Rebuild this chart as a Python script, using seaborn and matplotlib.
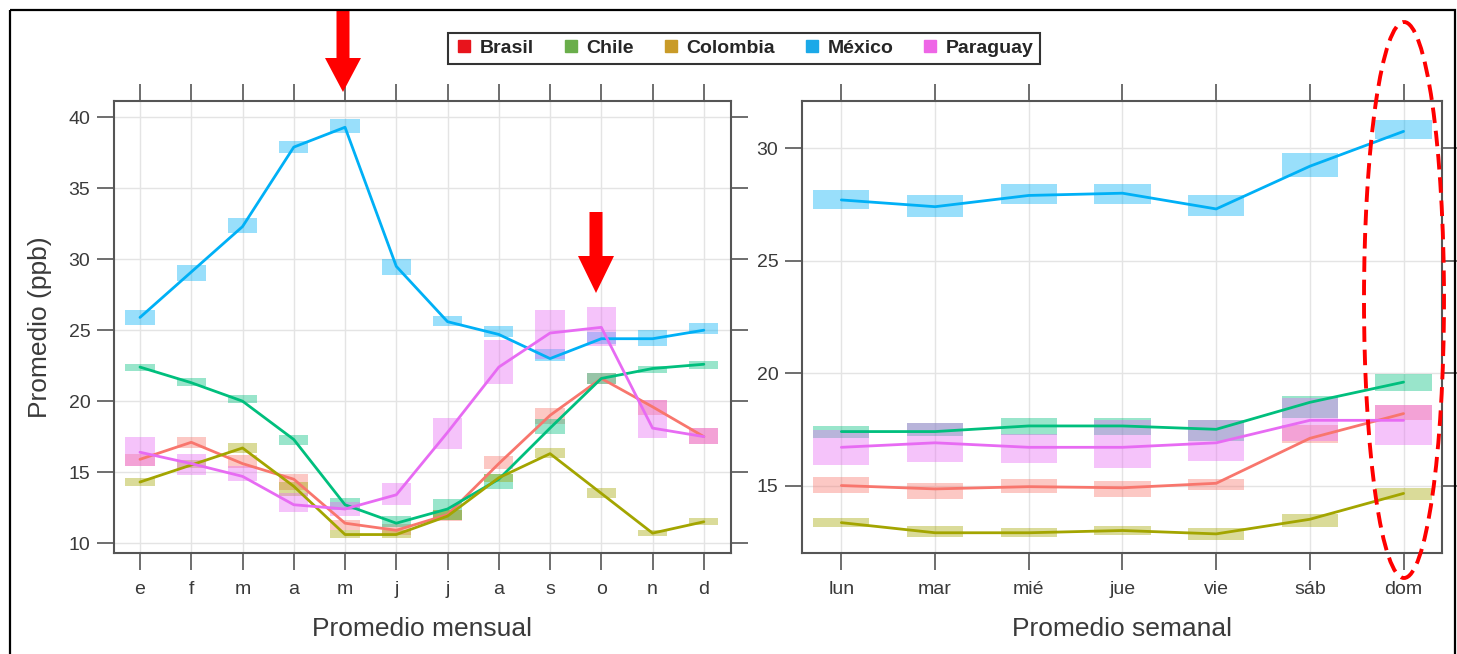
import matplotlib
matplotlib.use("Agg")
import matplotlib.pyplot as plt
import seaborn as sns
import pandas as pd
import numpy as np
from matplotlib.patches import Polygon, Ellipse, Rectangle
from matplotlib.lines import Line2D

sns.set_theme(style="white")
plt.rcParams['font.family'] = ['Liberation Sans', 'DejaVu Sans']

countries = ["Brasil", "Chile", "Colombia", "México", "Paraguay"]
months = ["e", "f", "m", "a", "m", "j", "j", "a", "s", "o", "n", "d"]
days = ["lun", "mar", "mié", "jue", "vie", "sáb", "dom"]

# monthly means and confidence bounds (ppb)
br_m = [15.9, 17.1, 15.6, 14.5, 11.4, 10.9, 12.0, 15.6, 19.0, 21.6, 19.6, 17.5]
br_m_lo = [15.4, 16.7, 15.3, 13.75, 10.9, 10.6, 11.55, 15.2, 18.4, 21.2, 19.05, 16.95]
br_m_hi = [16.3, 17.5, 16.2, 14.9, 11.6, 11.35, 12.35, 16.1, 19.5, 22.0, 20.1, 18.1]
cl_m = [22.4, 21.3, 20.0, 17.3, 12.7, 11.4, 12.4, 14.5, 18.1, 21.6, 22.3, 22.6]
cl_m_lo = [22.1, 21.1, 19.9, 16.9, 12.35, 11.1, 11.65, 13.8, 17.7, 21.2, 22.0, 22.25]
cl_m_hi = [22.6, 21.6, 20.4, 17.6, 13.2, 11.9, 13.1, 14.9, 18.75, 22.0, 22.5, 22.8]
co_m = [14.3, 15.5, 16.7, 14.0, 10.6, 10.6, 11.9, 14.6, 16.3, 13.5, 10.7, 11.5]
co_m_lo = [14.0, 15.3, 16.35, 13.3, 10.35, 10.35, 11.65, 14.3, 16.0, 13.2, 10.5, 11.3]
co_m_hi = [14.6, 15.85, 17.05, 14.3, 10.9, 10.9, 12.3, 14.9, 16.7, 13.9, 10.95, 11.75]
mx_m = [25.9, 29.1, 32.3, 37.9, 39.3, 29.5, 25.6, 24.7, 23.0, 24.4, 24.4, 25.0]
mx_m_lo = [25.4, 28.5, 31.85, 37.5, 38.9, 28.9, 25.3, 24.5, 22.8, 24.0, 23.9, 24.7]
mx_m_hi = [26.4, 29.6, 32.9, 38.3, 39.9, 30.0, 26.0, 25.3, 23.7, 24.9, 25.0, 25.5]
py_m = [16.4, 15.6, 14.7, 12.7, 12.4, 13.4, 17.8, 22.4, 24.8, 25.2, 18.1, 17.5]
py_m_lo = [15.4, 14.8, 14.35, 12.2, 11.9, 12.7, 16.6, 21.2, 23.0, 23.9, 17.4, 16.95]
py_m_hi = [17.5, 16.3, 15.4, 13.5, 12.9, 14.2, 18.8, 24.3, 26.4, 26.6, 20.1, 18.1]

# weekly means and confidence bounds (ppb)
br_w = [15.0, 14.85, 14.95, 14.9, 15.1, 17.1, 18.2]
br_w_lo = [14.65, 14.4, 14.65, 14.5, 14.8, 16.9, 17.9]
br_w_hi = [15.4, 15.1, 15.3, 15.2, 15.3, 17.7, 18.6]
cl_w = [17.4, 17.4, 17.65, 17.65, 17.5, 18.7, 19.6]
cl_w_lo = [17.1, 17.2, 17.25, 17.25, 17.0, 18.0, 19.2]
cl_w_hi = [17.65, 17.8, 18.0, 18.0, 17.9, 19.0, 19.95]
co_w = [13.35, 12.9, 12.9, 13.0, 12.85, 13.5, 14.65]
co_w_lo = [13.15, 12.7, 12.7, 12.8, 12.6, 13.15, 14.35]
co_w_hi = [13.55, 13.2, 13.1, 13.2, 13.1, 13.75, 14.9]
mx_w = [27.7, 27.4, 27.9, 28.0, 27.3, 29.2, 30.75]
mx_w_lo = [27.3, 26.95, 27.5, 27.5, 27.0, 28.7, 30.4]
mx_w_hi = [28.15, 27.9, 28.4, 28.4, 27.9, 29.8, 31.25]
py_w = [16.7, 16.9, 16.7, 16.7, 16.9, 17.9, 17.9]
py_w_lo = [15.9, 16.05, 16.0, 15.8, 16.1, 17.0, 16.8]
py_w_hi = [17.45, 17.8, 17.3, 17.9, 17.9, 18.9, 18.6]

line_colors = ["#F8766D", "#00BF7D", "#A3A500", "#00B0F6", "#E76BF3"]
legend_colors = ["#E8141C", "#6AAE4B", "#C99B28", "#1BA9E8", "#EE66E6"]

monthly = {
    "Brasil": (br_m, br_m_lo, br_m_hi), "Chile": (cl_m, cl_m_lo, cl_m_hi),
    "Colombia": (co_m, co_m_lo, co_m_hi), "México": (mx_m, mx_m_lo, mx_m_hi),
    "Paraguay": (py_m, py_m_lo, py_m_hi),
}
weekly = {
    "Brasil": (br_w, br_w_lo, br_w_hi), "Chile": (cl_w, cl_w_lo, cl_w_hi),
    "Colombia": (co_w, co_w_lo, co_w_hi), "México": (mx_w, mx_w_lo, mx_w_hi),
    "Paraguay": (py_w, py_w_lo, py_w_hi),
}

def long_df(d):
    rows = []
    for c in countries:
        for i, v in enumerate(d[c][0]):
            rows.append({"pos": i, "value": v, "country": c})
    return pd.DataFrame(rows)

W, H = 1457, 654
fig = plt.figure(figsize=(W / 100, H / 100), dpi=100)
fig.patch.set_facecolor("white")

ax1 = fig.add_axes([114 / W, 1 - 553 / H, 617 / W, 452 / H])
ax2 = fig.add_axes([802 / W, 1 - 553 / H, 640 / W, 452 / H])

pal = dict(zip(countries, line_colors))
text_col = "#3a3a3a"

def draw(ax, d, labels, bw, ylim, yticks, xlabel, xlim):
    for c in countries:
        v, lo, hi = d[c]
        lo = np.array(lo); hi = np.array(hi)
        ax.bar(np.arange(len(v)), hi - lo, bottom=lo, width=bw, color=pal[c],
               alpha=0.4, linewidth=0, zorder=2)
    df = long_df(d)
    sns.lineplot(data=df, x="pos", y="value", hue="country", palette=pal, ax=ax,
                 legend=False, linewidth=2.0, zorder=3)
    ax.set_xlim(*xlim)
    ax.set_ylim(*ylim)
    ax.set_xticks(range(len(labels)))
    ax.set_xticklabels(labels)
    ax.set_yticks(yticks)
    ax.grid(True, color="#e4e4e4", linewidth=1.0, zorder=0)
    ax.set_axisbelow(True)
    ax.tick_params(axis="both", which="both", direction="out", length=12, width=1.2,
                   color="#555555", labelsize=14, labelcolor=text_col,
                   top=True, right=True, bottom=True, left=True,
                   labeltop=False, labelright=False)
    ax.tick_params(axis="x", pad=8)
    ax.tick_params(axis="y", pad=5)
    for s in ax.spines.values():
        s.set_visible(True)
        s.set_color("#555555")
        s.set_linewidth(1.5)
    ax.set_xlabel(xlabel, fontsize=19, color=text_col, labelpad=14)
    ax.set_ylabel("")

draw(ax1, monthly, months, 0.57, (9.3, 41.15), [10, 15, 20, 25, 30, 35, 40],
     "Promedio mensual", (-0.507, 11.53))
draw(ax2, weekly, days, 0.6, (12.0, 32.1), [15, 20, 25, 30],
     "Promedio semanal", (-0.42, 6.41))
ax1.set_ylabel("Promedio (ppb)", fontsize=19, color=text_col, labelpad=12)

# legend
handles = [Line2D([0], [0], marker="s", linestyle="none", markersize=9,
                  markerfacecolor=col, markeredgecolor=col) for col in legend_colors]
leg = fig.legend(handles, countries, loc="center", ncol=5,
                 bbox_to_anchor=(744 / W, 1 - 48.5 / H), frameon=True,
                 prop={"weight": "bold", "size": 14}, handletextpad=0.3,
                 columnspacing=1.4, borderpad=0.35, handlelength=1.0,
                 fancybox=False, edgecolor="black")
leg.get_frame().set_linewidth(1.5)

# annotation overlay (arrows, ellipse, frame)
ov = fig.add_axes([0, 0, 1, 1], zorder=10)
ov.set_xlim(0, W)
ov.set_ylim(H, 0)
ov.axis("off")
ov.patch.set_alpha(0)

def arrow(xc, y0, yh, ytip, sw, hw):
    pts = [(xc - sw / 2, y0), (xc + sw / 2, y0), (xc + sw / 2, yh), (xc + hw / 2, yh),
           (xc, ytip), (xc - hw / 2, yh), (xc - sw / 2, yh)]
    ov.add_patch(Polygon(pts, closed=True, facecolor="#FF0000", edgecolor="none"))

arrow(343, 10, 58, 92, 13, 36)
arrow(596, 212, 256, 293, 13, 36)
ov.add_patch(Ellipse((1404, 300), 80, 556, facecolor="none", edgecolor="#FF0000",
                     linestyle=(0, (4, 2)), linewidth=2.8))
ov.add_patch(Rectangle((9.5, 10), 1445.5, 660, facecolor="none", edgecolor="black",
                       linewidth=1.6))

fig.savefig("out.png", dpi=100)
